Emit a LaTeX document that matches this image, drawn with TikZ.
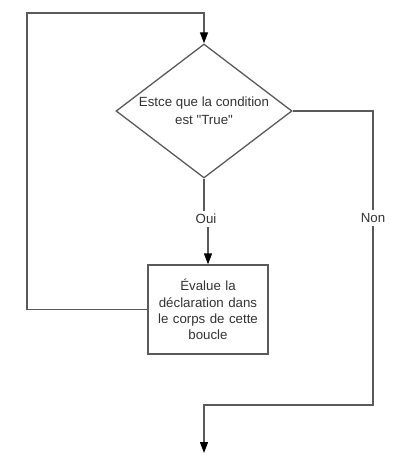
\documentclass[tikz,border=0pt]{standalone}
\usepackage{fontspec}
\setmainfont{Liberation Sans}[Ligatures=TeXOff]
\usetikzlibrary{shapes.geometric,arrows.meta}
\definecolor{lcol}{HTML}{5A5A5A}
\definecolor{tcol}{HTML}{333333}
\begin{document}
\begin{tikzpicture}[x=1pt,y=-1pt,
  line/.style={draw=lcol, line width=1.3pt},
  arr/.style={line, -{Triangle[length=11pt,width=8pt,color=black,fill=black]}},
  decision/.style={diamond, draw=lcol, line width=1.3pt, aspect=1.31,
    minimum width=176pt, minimum height=134pt, inner sep=0pt, align=center,
    text=tcol, font=\fontsize{13.3}{18}\selectfont},
  procbox/.style={rectangle, draw=lcol, line width=1.3pt, minimum width=120pt,
    minimum height=89pt, align=center, text width=114pt, inner sep=0pt,
    text=tcol, font=\fontsize{13.3}{16.4}\selectfont},
  lbl/.style={inner sep=3pt, text=tcol, font=\fontsize{13.3}{16}\selectfont}]
\useasboundingbox (0,0) rectangle (406,476);
\node[decision] (d) at (204,111) {Estce que la condition\\est "True"};
\node[procbox] (b) at (208,309.5) {Évalue la\\déclaration dans\\le corps de cette\\boucle};
\node[lbl] (oui) at (206,219) {Oui};
\node[lbl] (non) at (373,218) {Non};
\coordinate (tl) at (27,13);
\coordinate (br) at (373,405);
\coordinate (fin) at (204,453);
% loop back
\draw[arr] (b.west) -| (tl) -| (d.north);
% Oui branch
\draw[line] (d.south) -- (d.south |- oui.north);
\draw[arr] (b.north |- oui.south) -- (b.north);
% Non branch
\draw[line] (d.east) -| (non.north);
\draw[arr] (non.south) -- (br) -| (fin);
\end{tikzpicture}
\end{document}
